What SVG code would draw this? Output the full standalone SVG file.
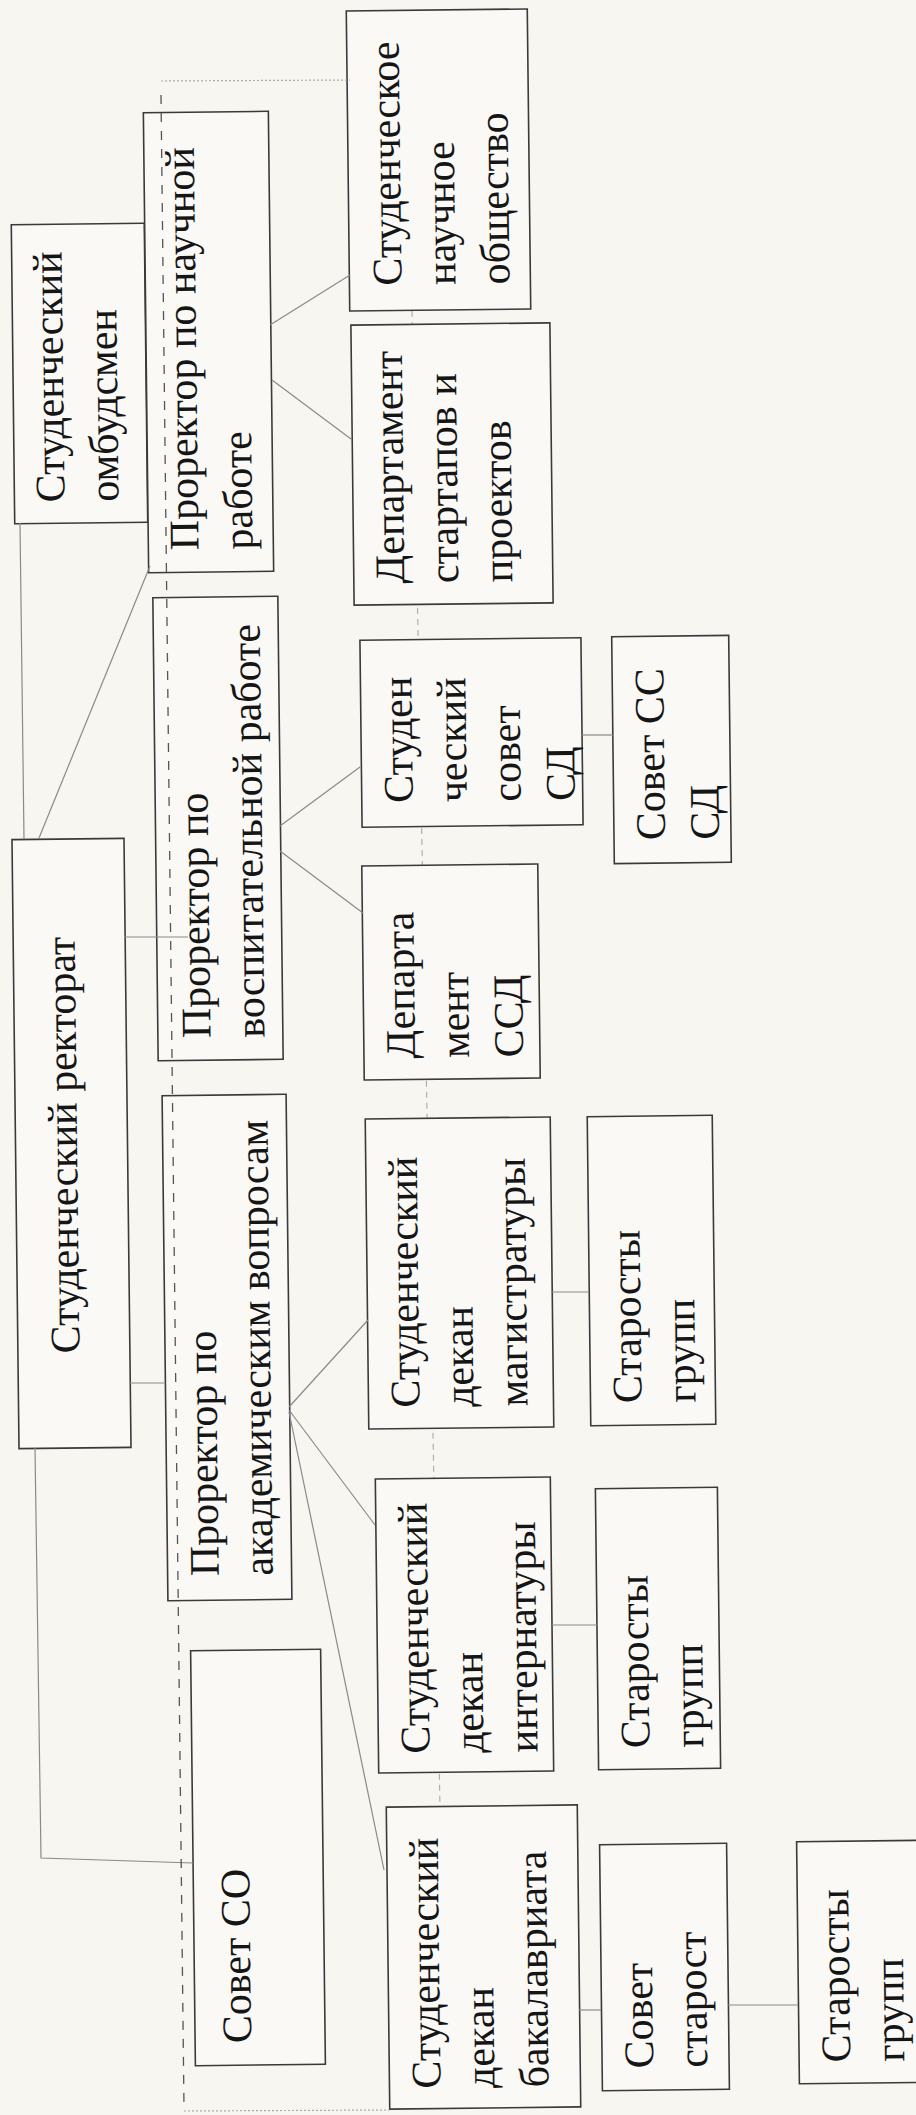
<svg xmlns="http://www.w3.org/2000/svg" width="916" height="2115" viewBox="0 0 916 2115">
<style>
.box{fill:#faf9f5;stroke:#3a3a3a;stroke-width:1.6}
.t{font-family:"Liberation Serif","Times New Roman",serif;font-size:42px;fill:#151515}
.c{stroke:#8a8a8a;stroke-width:1.2;fill:none}
.dash{stroke:#555;stroke-width:1.3;stroke-dasharray:9 9;fill:none}
.dash2{stroke:#aaa;stroke-width:1.1;stroke-dasharray:6 5;fill:none}
.dot{stroke:#aaa;stroke-width:1.2;stroke-dasharray:2 2;fill:none}
</style>
<rect width="916" height="2115" fill="#f7f6f1"/>
<g id="guides-under">
<line class="dash2" x1="412" y1="311" x2="440" y2="1808"/>
</g>
<g id="n-ombudsman" transform="rotate(-0.66 79 373.5)">
<rect class="box" x="13" y="224" width="133" height="299"/>
<text class="t" transform="translate(63,502) rotate(-90)"><tspan x="0" y="0">Студенческий</tspan><tspan x="0" y="54">омбудсмен</tspan></text>
</g>
<g id="n-pro-science" transform="rotate(-0.66 208.5 342)">
<rect class="box" x="146" y="112" width="125" height="460"/>
<text class="t" transform="translate(196,550) rotate(-90)"><tspan x="0" y="0">Проректор по научной</tspan><tspan x="0" y="54">работе</tspan></text>
</g>
<g id="n-sno" transform="rotate(-0.66 438.5 160)">
<rect class="box" x="348" y="10" width="181" height="300"/>
<text class="t" transform="translate(400,285) rotate(-90)"><tspan x="0" y="0">Студенческое</tspan><tspan x="0" y="54">научное</tspan><tspan x="0" y="108">общество</tspan></text>
</g>
<g id="n-startups" transform="rotate(-0.66 452 464)">
<rect class="box" x="352.5" y="324" width="199" height="280"/>
<text class="t" transform="translate(403,583) rotate(-90)"><tspan x="0" y="0">Департамент</tspan><tspan x="0" y="54">стартапов и</tspan><tspan x="0" y="108">проектов</tspan></text>
</g>
<g id="n-rectorate" transform="rotate(-0.66 71.5 1143.5)">
<rect class="box" x="15.5" y="839" width="112" height="609"/>
<text class="t" text-anchor="middle" transform="translate(77,1145) rotate(-90)">Студенческий ректорат</text>
</g>
<g id="n-pro-edu" transform="rotate(-0.66 218 828.5)">
<rect class="box" x="155.5" y="597" width="125" height="463"/>
<text class="t" transform="translate(208,1038) rotate(-90)"><tspan x="0" y="0">Проректор по</tspan><tspan x="0" y="54">воспитательной работе</tspan></text>
</g>
<g id="n-pro-acad" transform="rotate(-0.66 227 1347.5)">
<rect class="box" x="165" y="1095" width="124" height="505"/>
<text class="t" transform="translate(216,1576) rotate(-90)"><tspan x="0" y="0">Проректор по</tspan><tspan x="0" y="54">академическим вопросам</tspan></text>
</g>
<g id="n-dep-ssd" transform="rotate(-0.66 451 972)">
<rect class="box" x="363" y="865" width="176" height="214"/>
<text class="t" transform="translate(414,1058) rotate(-90)"><tspan x="0" y="0">Департа</tspan><tspan x="0" y="54">мент</tspan><tspan x="0" y="108">ССД</tspan></text>
</g>
<g id="n-council-sd" transform="rotate(-0.66 471.5 732.5)">
<rect class="box" x="361" y="639" width="221" height="187"/>
<text class="t" transform="translate(412,802) rotate(-90)"><tspan x="0" y="0">Студен</tspan><tspan x="0" y="54">ческий</tspan><tspan x="0" y="108">совет</tspan><tspan x="0" y="162">СД</tspan></text>
</g>
<g id="n-council-ss-sd" transform="rotate(-0.66 671.5 749.5)">
<rect class="box" x="613" y="636" width="117" height="227"/>
<text class="t" transform="translate(664,840) rotate(-90)"><tspan x="0" y="0">Совет СС</tspan><tspan x="0" y="54">СД</tspan></text>
</g>
<g id="n-dean-mag" transform="rotate(-0.66 459.5 1273)">
<rect class="box" x="367" y="1118" width="185" height="310"/>
<text class="t" transform="translate(418,1407) rotate(-90)"><tspan x="0" y="0">Студенческий</tspan><tspan x="0" y="54">декан</tspan><tspan x="0" y="108">магистратуры</tspan></text>
</g>
<g id="n-heads-mag" transform="rotate(-0.66 651.5 1270.5)">
<rect class="box" x="589" y="1116" width="125" height="309"/>
<text class="t" transform="translate(640,1403) rotate(-90)"><tspan x="0" y="0">Старосты</tspan><tspan x="0" y="54">групп</tspan></text>
</g>
<g id="n-dean-int" transform="rotate(-0.66 464.5 1625)">
<rect class="box" x="377" y="1478" width="175" height="294"/>
<text class="t" transform="translate(428,1753) rotate(-90)"><tspan x="0" y="0">Студенческий</tspan><tspan x="0" y="54">декан</tspan><tspan x="0" y="108">интернатуры</tspan></text>
</g>
<g id="n-heads-int" transform="rotate(-0.66 658 1628.5)">
<rect class="box" x="597" y="1488" width="122" height="281"/>
<text class="t" transform="translate(648,1748) rotate(-90)"><tspan x="0" y="0">Старосты</tspan><tspan x="0" y="54">групп</tspan></text>
</g>
<g id="n-council-so" transform="rotate(-0.66 258 1857.5)">
<rect class="box" x="193" y="1650" width="130" height="415"/>
<text class="t" transform="translate(249,2043) rotate(-90)">Совет СО</text>
</g>
<g id="n-dean-bak" transform="rotate(-0.66 483.5 1957)">
<rect class="box" x="388" y="1806" width="191" height="302"/>
<text class="t" transform="translate(439,2088) rotate(-90)"><tspan x="0" y="0">Студенческий</tspan><tspan x="0" y="54">декан</tspan><tspan x="0" y="108">бакалавриата</tspan></text>
</g>
<g id="n-council-heads" transform="rotate(-0.66 664.5 1967)">
<rect class="box" x="601" y="1844" width="127" height="246"/>
<text class="t" transform="translate(652,2068) rotate(-90)"><tspan x="0" y="0">Совет</tspan><tspan x="0" y="54">старост</tspan></text>
</g>
<g id="n-heads-bak" transform="rotate(-0.66 866.5 1962)">
<rect class="box" x="798" y="1841" width="137" height="242"/>
<text class="t" transform="translate(849,2062) rotate(-90)"><tspan x="0" y="0">Старосты</tspan><tspan x="0" y="54">групп</tspan></text>
</g>
<g id="connectors">
<line class="c" x1="24" y1="839" x2="20" y2="523"/>
<line class="c" x1="39" y1="838" x2="150" y2="566"/>
<line class="c" x1="124" y1="937" x2="188" y2="937"/>
<line class="c" x1="130" y1="1383" x2="164" y2="1383"/>
<polyline class="c" points="35,1448 41,1858 193,1863"/>
<line class="c" x1="270" y1="325" x2="350" y2="275"/>
<line class="c" x1="272" y1="380" x2="351" y2="439"/>
<line class="c" x1="280" y1="826" x2="360" y2="767"/>
<line class="c" x1="280" y1="851" x2="363" y2="913"/>
<line class="c" x1="582" y1="735" x2="613" y2="735"/>
<line class="c" x1="289" y1="1407" x2="368" y2="1320"/>
<line class="c" x1="289" y1="1410" x2="375" y2="1525"/>
<line class="c" x1="289" y1="1412" x2="384" y2="1870"/>
<line class="c" x1="552" y1="1292" x2="589" y2="1292"/>
<line class="c" x1="552" y1="1625" x2="597" y2="1625"/>
<line class="c" x1="579" y1="2010" x2="601" y2="2010"/>
<line class="c" x1="728" y1="2005" x2="798" y2="2005"/>
</g>
<g id="guides">
<line class="dash" x1="161" y1="95" x2="184" y2="2108"/>
<line class="dot" x1="161" y1="81" x2="350" y2="80"/>
<line class="dot" x1="184" y1="2111" x2="390" y2="2110"/>
</g>
</svg>
